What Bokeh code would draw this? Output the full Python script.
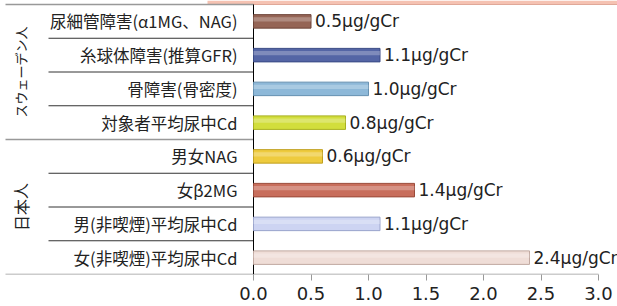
from bokeh.plotting import figure
from bokeh.models import Range1d, FixedTicker, PrintfTickFormatter, ColumnDataSource
from bokeh.core.properties import value
from bokeh.embed import file_html
from bokeh.resources import INLINE

# ---- data ----
categories = [
    "尿細管障害(α1MG、NAG)",
    "糸球体障害(推算GFR)",
    "骨障害(骨密度)",
    "対象者平均尿中Cd",
    "男女NAG",
    "女β2MG",
    "男(非喫煙)平均尿中Cd",
    "女(非喫煙)平均尿中Cd",
]
values = [0.5, 1.1, 1.0, 0.8, 0.6, 1.4, 1.1, 2.4]
unit = "μg/gCr"
groups = ["スウェーデン人", "日本人"]
group_sizes = [4, 4]
ticks = [0.0, 0.5, 1.0, 1.5, 2.0, 2.5, 3.0]

fill_colors = ["#956556", "#5465A5", "#8DB8D8", "#D2DE3C",
               "#EECB3E", "#C86E5C", "#CDD4F2", "#EFDDD7"]
line_colors = ["#6E4538", "#3A4A85", "#6690B0", "#A8B020",
               "#C0A020", "#9A4A3A", "#9AA4CC", "#C0A8A0"]

# ---- layout ----
W, H = 617, 306
px_per_unit = 115.0
zero_px = 253.0          # x of value 0 inside figure
x_start = -zero_px / px_per_unit
x_end = (W - zero_px) / px_per_unit
n = len(categories)
frame_h = 274.0
strip_px = 4.0
row_px = (frame_h - strip_px) / n
y_top = -strip_px / row_px

p = figure(width=W, height=H, output_backend="svg", toolbar_location=None,
           x_range=Range1d(x_start, x_end), y_range=Range1d(n, y_top),
           min_border_left=0, min_border_right=0, min_border_top=0,
           min_border_bottom=H - int(frame_h))
p.outline_line_color = None
p.xgrid.visible = False
p.ygrid.visible = False
p.yaxis.visible = False
p.background_fill_color = "white"
p.border_fill_color = "white"

xa = p.xaxis[0]
xa.ticker = FixedTicker(ticks=ticks)
xa.formatter = PrintfTickFormatter(format="%.1f")
xa.axis_line_color = None
xa.major_tick_line_color = "#999999"
xa.major_tick_out = 6
xa.major_tick_in = 0
xa.minor_tick_line_color = None
xa.major_label_text_font = "DejaVu Sans"
xa.major_label_text_font_size = "18px"
xa.major_label_text_color = "#222222"
xa.major_label_standoff = 6

# decorative pink strip at top
p.quad(left=[-46 / px_per_unit], right=[x_end], top=[y_top], bottom=[0],
       fill_color="#F5C2B2", line_color=None)
p.segment(x0=[-46 / px_per_unit], x1=[x_end], y0=[0], y1=[0],
          line_color="#E0A898", line_width=1)

# separators
inner_left = -205 / px_per_unit
gy, iy = [], []
pos = 0
gy.append(0)
for s in group_sizes:
    for k in range(1, s):
        iy.append(pos + k)
    pos += s
    gy.append(pos)
p.segment(x0=[inner_left] * len(iy), x1=[0] * len(iy), y0=iy, y1=iy,
          line_color="#333333", line_width=1)
p.segment(x0=[-248 / px_per_unit] * (len(gy) - 1), x1=[0] * (len(gy) - 1),
          y0=gy[:-1], y1=gy[:-1], line_color="#999999", line_width=1.5)
# bottom line (also x-axis line)
p.segment(x0=[-248 / px_per_unit], x1=[ticks[-1]], y0=[n], y1=[n],
          line_color="#999999", line_width=1.5)
# vertical axis line
p.segment(x0=[0], x1=[0], y0=[0], y1=[n], line_color="#000000", line_width=1)

# bars
ys = [i + 0.5 for i in range(n)]
src = ColumnDataSource(dict(y=ys, right=values, fill=fill_colors, line=line_colors,
                            cat=categories,
                            lab=[f"{v:.1f}{unit}" for v in values],
                            lx=[v + 0.035 for v in values]))
p.hbar(y="y", left=0, right="right", height=0.4, fill_color="fill",
       line_color="line", line_width=1, source=src)
# subtle highlight
p.hbar(y=[y - 0.06 for y in ys], left=0, right=values, height=0.12,
       fill_color="white", fill_alpha=0.25, line_color=None)

# category labels
p.text(x=-16 / px_per_unit, y="y", text="cat", source=src,
       text_align="right", text_baseline="middle",
       text_font=value("Noto Sans CJK JP"), text_font_size="16.5px",
       text_color="#222222")

# value labels
p.text(x="lx", y="y", text="lab", source=src,
       text_align="left", text_baseline="middle",
       text_font=value("DejaVu Sans"), text_font_size="17px",
       text_color="#222222")

# group labels
gcent = []
pos = 0
for s in group_sizes:
    gcent.append(pos + s / 2)
    pos += s
p.text(x=[-233 / px_per_unit], y=[gcent[0]], text=[groups[0]], angle=1.5708,
       text_align="center", text_baseline="middle",
       text_font=value("Noto Sans CJK JP"), text_font_size="13px",
       text_color="#222222")
p.text(x=[-233 / px_per_unit], y=[gcent[1]], text=[groups[1]], angle=1.5708,
       text_align="center", text_baseline="middle",
       text_font=value("Noto Sans CJK JP"), text_font_size="16px",
       text_color="#222222")

open("out.html", "w").write(file_html(p, INLINE))
